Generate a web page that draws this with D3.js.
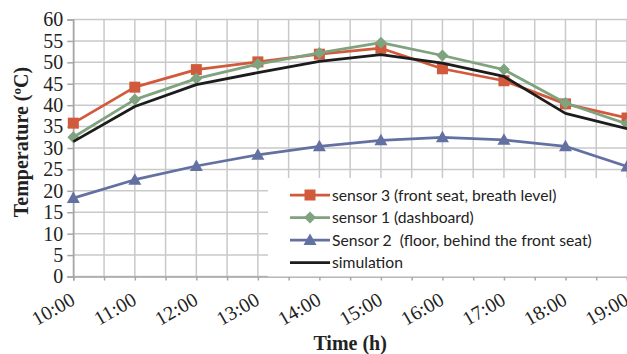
<html>
<head>
    <meta charset="UTF-8">
    <title>Temperature</title>
    <style>
        body { margin: 0; background: #fff; }
    </style>
</head>
<body>
<script src="https://d3js.org/d3.v7.min.js"></script>
<div id="chart"></div>

<script>
    // data
    var times = ["10:00", "11:00", "12:00", "13:00", "14:00", "15:00", "16:00", "17:00", "18:00", "19:00"];
    var sensor3 = [35.8, 44.2, 48.3, 50.1, 51.9, 53.3, 48.5, 45.7, 40.3, 37.0];
    var sensor1 = [32.5, 41.3, 46.2, 49.6, 52.2, 54.6, 51.6, 48.3, 40.5, 35.6];
    var sensor2 = [18.3, 22.6, 25.8, 28.4, 30.4, 31.8, 32.5, 31.9, 30.4, 25.7];
    var simulation = [31.5, 39.7, 44.8, 47.6, 50.2, 51.8, 49.8, 46.7, 38.1, 34.5];
    var yTicks = [0, 5, 10, 15, 20, 25, 30, 35, 40, 45, 50, 55, 60];

    var series = [
        {name: "sensor 3 (front seat, breath level)", values: sensor3, color: "#d25a3c", marker: "square"},
        {name: "sensor 1 (dashboard)", values: sensor1, color: "#7fa27f", marker: "diamond"},
        {name: "Sensor 2  (floor, behind the front seat)", values: sensor2, color: "#6371a2", marker: "triangle"},
        {name: "simulation", values: simulation, color: "#1c1c1c", marker: null}
    ];

    var margin = {top: 19.5, right: 0, bottom: 77.5, left: 73.3},
        outerWidth = 627, outerHeight = 354,
        width = outerWidth - margin.left - margin.right,
        height = outerHeight - margin.top - margin.bottom;

    var svg = d3.select("#chart")
        .append("svg")
        .attr("width", outerWidth)
        .attr("height", outerHeight)
        .style("display", "block")
        .append("g")
            .attr("transform", `translate(${margin.left}, ${margin.top})`);

    // x is hours since 10:00, gridlines every half hour
    var x = d3.scaleLinear()
        .domain([0, times.length - 1])
        .range([0, width]);
    var y = d3.scaleLinear()
        .domain([0, 60])
        .range([height, 0]);

    var halfHours = d3.range(0, times.length - 0.5, 0.5);

    // grid
    svg.append("g")
        .selectAll("line")
        .data(yTicks)
        .enter().append("line")
        .attr("x1", 0).attr("x2", width)
        .attr("y1", d => y(d)).attr("y2", d => y(d))
        .attr("stroke", "#c9c9c9")
        .attr("stroke-width", 1.5);
    svg.append("g")
        .selectAll("line")
        .data(halfHours)
        .enter().append("line")
        .attr("x1", d => x(d)).attr("x2", d => x(d))
        .attr("y1", 0).attr("y2", height)
        .attr("stroke", "#c9c9c9")
        .attr("stroke-width", 1.5);

    // y axis
    var yAxis = svg.append("g")
        .call(d3.axisLeft(y).tickValues(yTicks).tickSize(6).tickPadding(4));
    yAxis.select(".domain").attr("stroke", "#a6a6a6").attr("stroke-width", 1.5);
    yAxis.selectAll(".tick line").attr("stroke", "#a6a6a6").attr("stroke-width", 1.5);
    yAxis.selectAll(".tick text")
        .style("font-family", "'Liberation Serif', serif")
        .style("font-size", "20px")
        .attr("fill", "#222");

    // x axis: ticks every half hour, labels on the hour
    var xAxis = svg.append("g")
        .attr("transform", `translate(0, ${height})`)
        .call(d3.axisBottom(x).tickValues(halfHours).tickSize(4).tickFormat(""));
    xAxis.select(".domain").attr("stroke", "#a6a6a6").attr("stroke-width", 1.5);
    xAxis.selectAll(".tick line").attr("stroke", "#a6a6a6").attr("stroke-width", 1.5);

    svg.append("g")
        .selectAll("text")
        .data(times)
        .enter().append("text")
        .attr("transform", (d, i) => `translate(${x(i) + 3}, ${height + 27}) rotate(-30)`)
        .attr("text-anchor", "end")
        .style("font-family", "'Liberation Serif', serif")
        .style("font-size", "20px")
        .attr("fill", "#222")
        .text(d => d);

    // axis titles
    svg.append("text")
        .attr("transform", `translate(${28 - margin.left}, ${height / 2 - 6}) rotate(-90)`)
        .attr("text-anchor", "middle")
        .style("font-family", "'Liberation Serif', serif")
        .style("font-size", "20px")
        .style("font-weight", "bold")
        .attr("fill", "#222")
        .text("Temperature (ºC)");
    svg.append("text")
        .attr("x", width / 2)
        .attr("y", 350 - margin.top)
        .attr("text-anchor", "middle")
        .style("font-family", "'Liberation Serif', serif")
        .style("font-size", "20px")
        .style("font-weight", "bold")
        .attr("fill", "#222")
        .text("Time (h)");

    // markers
    function drawMarker(g, type, color) {
        if (type === "square") {
            g.append("rect").attr("x", -5.5).attr("y", -5.5).attr("width", 11).attr("height", 11).attr("fill", color);
        } else if (type === "diamond") {
            g.append("path").attr("d", "M0,-6L6,0L0,6L-6,0Z").attr("fill", color);
        } else if (type === "triangle") {
            g.append("path").attr("d", "M0,-6.5L6.5,5L-6.5,5Z").attr("fill", color);
        }
    }

    var line = d3.line()
        .x((d, i) => x(i))
        .y(d => y(d));

    series.forEach(function(s) {
        svg.append("path")
            .datum(s.values)
            .attr("d", line)
            .attr("fill", "none")
            .attr("stroke", s.color)
            .attr("stroke-width", 2.75)
            .attr("stroke-linejoin", "round");
        if (s.marker) {
            s.values.forEach(function(v, i) {
                var g = svg.append("g").attr("transform", `translate(${x(i)}, ${y(v)})`);
                drawMarker(g, s.marker, s.color);
            });
        }
    });

    // legend
    var legend = svg.append("g")
        .attr("transform", `translate(${268 - margin.left}, ${178 - margin.top})`);
    legend.append("rect")
        .attr("width", outerWidth - 268)
        .attr("height", height - (178 - margin.top))
        .attr("fill", "#fff");
    series.forEach(function(s, i) {
        var row = legend.append("g")
            .attr("transform", `translate(0, ${17 + i * 22.5})`);
        row.append("line")
            .attr("x1", 22).attr("x2", 62)
            .attr("stroke", s.color)
            .attr("stroke-width", 2.75);
        if (s.marker) {
            var g = row.append("g").attr("transform", "translate(42, 0)");
            drawMarker(g, s.marker, s.color);
        }
        row.append("text")
            .attr("x", 64)
            .attr("dy", "0.35em")
            .style("font-family", "Lato, sans-serif")
            .style("font-size", "15.7px")
            .style("white-space", "pre")
            .attr("fill", "#222")
            .text(s.name);
    });
</script>

</body>
</html>
